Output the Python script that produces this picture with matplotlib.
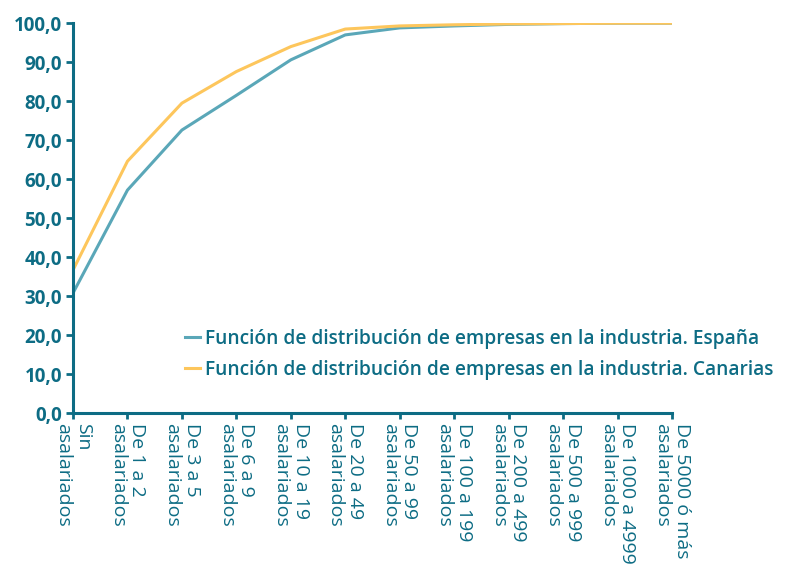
import matplotlib.pyplot as plt
import numpy as np

plt.rcParams['font.family'] = ['Open Sans', 'DejaVu Sans']

TEAL = '#0d6c84'

categorias = ['Sin\nasalariados', 'De 1 a 2\nasalariados', 'De 3 a 5\nasalariados',
              'De 6 a 9\nasalariados', 'De 10 a 19\nasalariados', 'De 20 a 49\nasalariados',
              'De 50 a 99\nasalariados', 'De 100 a 199\nasalariados', 'De 200 a 499\nasalariados',
              'De 500 a 999\nasalariados', 'De 1000 a 4999\nasalariados', 'De 5000 ó más\nasalariados']
espana = [30.8, 57.2, 72.6, 81.5, 90.6, 97.0, 98.8, 99.3, 99.7, 99.9, 100.0, 100.0]
canarias = [36.7, 64.6, 79.5, 87.6, 94.0, 98.5, 99.3, 99.6, 99.8, 99.9, 100.0, 100.0]
etiquetas = ['Función de distribución de empresas en la industria. España',
             'Función de distribución de empresas en la industria. Canarias']

fig = plt.figure(figsize=(7.97, 5.66), dpi=100)
ax = fig.add_axes([0.0916, 0.270, 0.7515, 0.689])

x = np.arange(len(categorias))
ax.plot(x, espana, color='#5aa7b8', lw=2.2, label=etiquetas[0])
ax.plot(x, canarias, color='#fdc65c', lw=2.2, label=etiquetas[1])

ax.set_xlim(0, len(categorias) - 1)
ax.set_ylim(0, 100)
ax.set_yticks(np.arange(0, 101, 10))
ax.set_yticklabels([f'{v:.1f}'.replace('.', ',') for v in np.arange(0, 101, 10)],
                   fontsize=13.5, fontweight='bold', color=TEAL)
ax.set_xticks(x)
ax.set_xticklabels(categorias, rotation=-90, ha='center', va='top',
                   multialignment='left', fontsize=14, color=TEAL,
                   fontweight='medium', linespacing=1.1)

for s in ['top', 'right']:
    ax.spines[s].set_visible(False)
for s in ['left', 'bottom']:
    ax.spines[s].set_color(TEAL)
    ax.spines[s].set_linewidth(2.2)
ax.tick_params(axis='y', length=5, width=2, color=TEAL, pad=3)
ax.tick_params(axis='x', length=4, width=2, color=TEAL, pad=3)

leg = ax.legend(loc='upper left', bbox_to_anchor=(185 / 797, 1 - 329 / 566),
                bbox_transform=fig.transFigure, frameon=False, fontsize=13.8,
                handlelength=0.8, handletextpad=0.25, labelspacing=0.55,
                borderaxespad=0, borderpad=0)
for t in leg.get_texts():
    t.set_color(TEAL)
    t.set_fontweight('semibold')

fig.savefig('out.png', dpi=100)
